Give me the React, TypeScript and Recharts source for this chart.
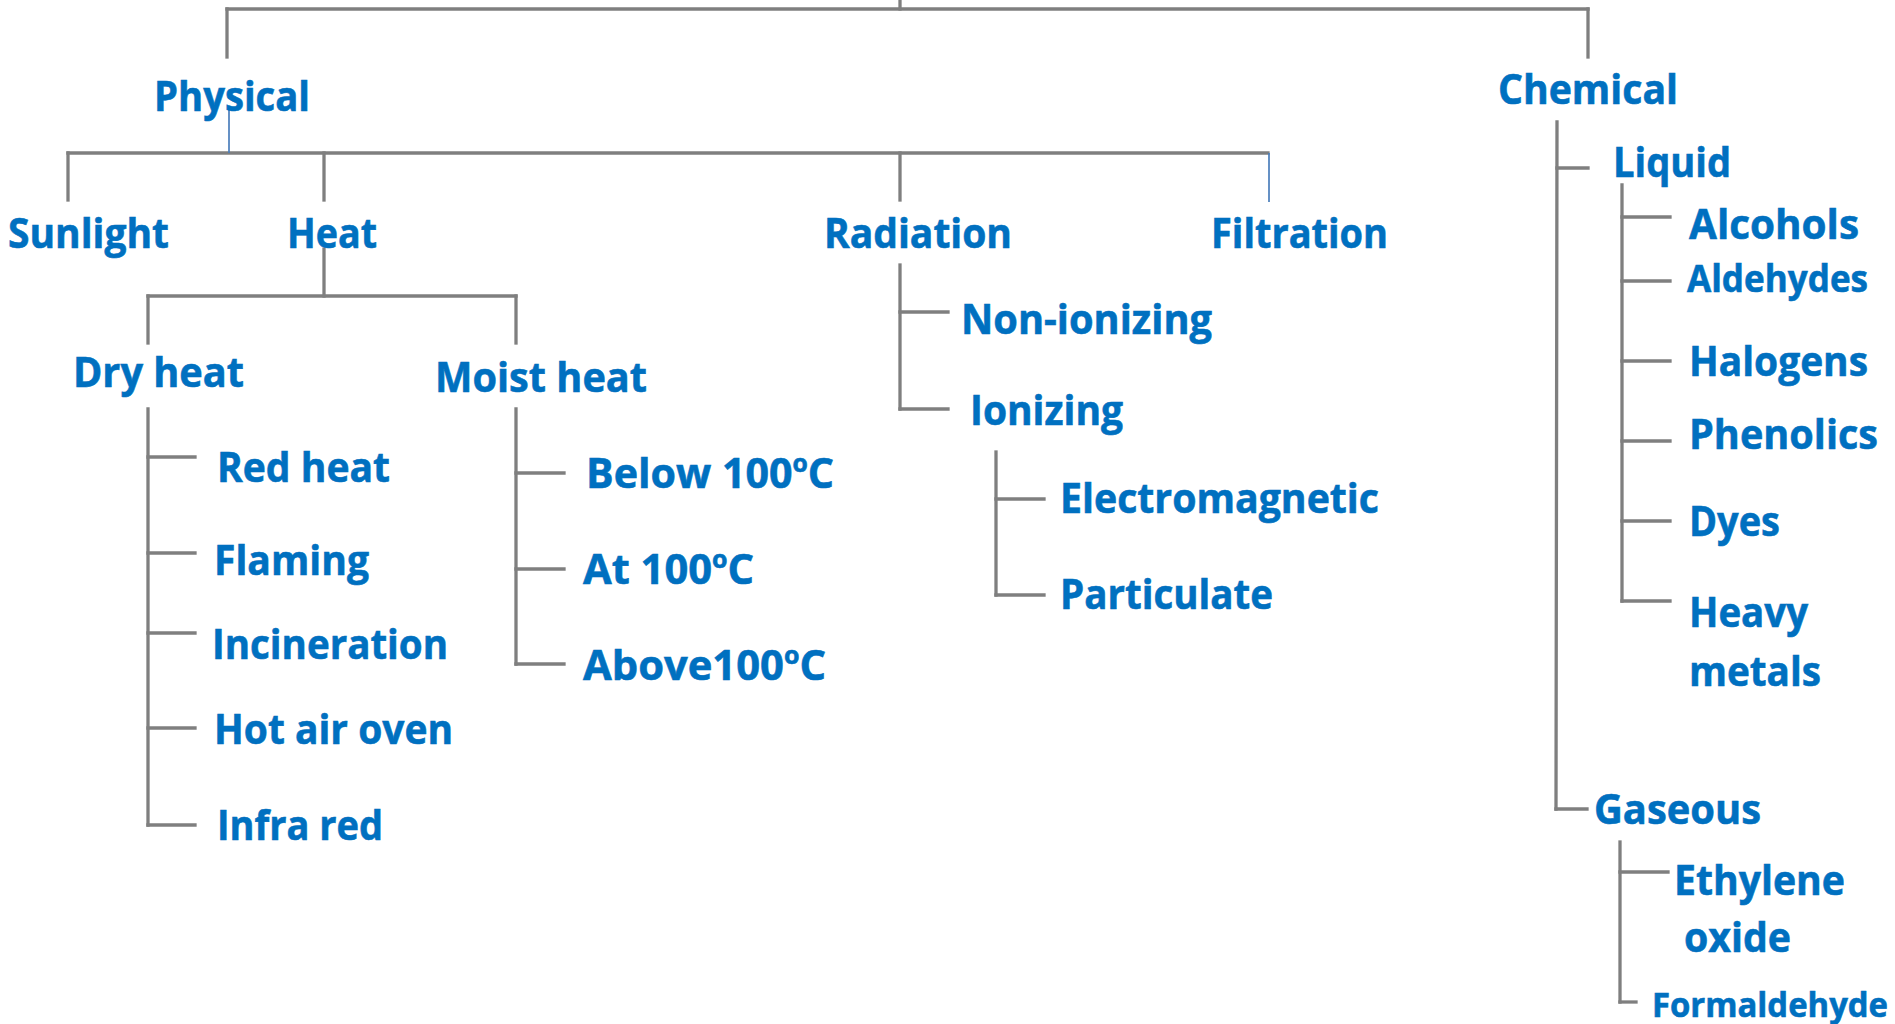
import { ReferenceLine, Scatter, ScatterChart, XAxis, YAxis } from "recharts";

const W = 1895;
const H = 1024;

const tokens = {
  text: "#0070C0",
  line: "#7F7F7F",
  thin: "#4A7EBB",
  font: "'Open Sans', 'Noto Sans', sans-serif",
  fontSize: 42,
} as const;

// node labels: text, left edge and baseline in diagram units
const labelText = [
  "Physical", "Chemical",
  "Sunlight", "Heat", "Radiation", "Filtration",
  "Dry heat", "Moist heat",
  "Red heat", "Flaming", "Incineration", "Hot air oven", "Infra red",
  "Below 100°C", "At 100°C", "Above100°C",
  "Non-ionizing", "Ionizing", "Electromagnetic", "Particulate",
  "Liquid", "Alcohols", "Aldehydes", "Halogens", "Phenolics", "Dyes", "Heavy", "metals",
  "Gaseous", "Ethylene", "oxide", "Formaldehyde",
];
const labelX = [
  154, 1498,
  8, 287, 824, 1211,
  73, 435,
  217, 214, 212, 214, 217,
  586, 583, 583,
  961, 970, 1060, 1060,
  1613, 1689, 1687, 1689, 1689, 1689, 1689, 1689,
  1594, 1674, 1684, 1652,
];
const labelY = [
  111, 104,
  248, 248, 248, 248,
  387, 392,
  482, 575, 659, 744, 840,
  488, 584, 680,
  334, 425, 513, 609,
  177, 239, 292, 376, 449, 536, 627, 686,
  824, 895, 952, 1017,
];

// connector segments [x1, y1, x2, y2]
const rootLinks = [
  [900, 0, 900, 9],
  [227, 9, 1588, 9],
  [227, 9, 227, 57],
  [1588, 9, 1588, 57],
];
const physicalLinks = [
  [68, 153, 1268, 153],
  [68, 153, 68, 200],
  [324, 153, 324, 200],
  [900, 153, 900, 200],
];
const heatLinks = [
  [324, 249, 324, 296],
  [148, 296, 516, 296],
  [148, 296, 148, 343],
  [516, 296, 516, 343],
];
const dryHeatLinks = [
  [148, 409, 148, 825],
  [148, 457, 195, 457],
  [148, 553, 195, 553],
  [148, 633, 195, 633],
  [148, 728, 195, 728],
  [148, 825, 195, 825],
];
const moistHeatLinks = [
  [516, 409, 516, 664],
  [516, 473, 564, 473],
  [516, 569, 564, 569],
  [516, 664, 564, 664],
];
const radiationLinks = [
  [900, 265, 900, 409],
  [900, 312, 948, 312],
  [900, 409, 948, 409],
];
const ionizingLinks = [
  [996, 452, 996, 595],
  [996, 499, 1044, 499],
  [996, 595, 1044, 595],
];
const chemicalLinks = [
  [1557, 122, 1556, 809],
  [1557, 168, 1588, 168],
  [1556, 809, 1587, 809],
];
const liquidLinks = [
  [1622, 185, 1622, 601],
  [1622, 217, 1670, 217],
  [1622, 281, 1670, 281],
  [1622, 361, 1670, 361],
  [1622, 441, 1670, 441],
  [1622, 521, 1670, 521],
  [1622, 601, 1670, 601],
];
const gaseousLinks = [
  [1620, 842, 1620, 1002],
  [1620, 872, 1668, 872],
  [1620, 1002, 1636, 1002],
];
const thinLinks = [
  [229, 110, 229, 153],
  [1269, 153, 1269, 202],
];

// rendered widths of each label, matched to the picture
const labelWidth: Record<string, number> = {
  Physical: 156, Chemical: 180, Sunlight: 161, Heat: 90, Radiation: 188, Filtration: 177,
  "Dry heat": 171, "Moist heat": 212, "Red heat": 173, Flaming: 155, Incineration: 236,
  "Hot air oven": 239, "Infra red": 166, "Below 100°C": 248, "At 100°C": 171,
  "Above100°C": 243, "Non-ionizing": 251, Ionizing: 153, Electromagnetic: 319,
  Particulate: 213, Liquid: 118, Alcohols: 170, Aldehydes: 181, Halogens: 179,
  Phenolics: 189, Dyes: 91, Heavy: 119, metals: 132, Gaseous: 167, Ethylene: 171,
  oxide: 107, Formaldehyde: 236,
};
const labelSize: Record<string, number> = {
  Aldehydes: 38,
  Formaldehyde: 34,
};

const nodes = labelText.map((text, i) => ({ text, x: labelX[i], y: labelY[i] }));

const grayLinks = [
  ...rootLinks,
  ...physicalLinks,
  ...heatLinks,
  ...dryHeatLinks,
  ...moistHeatLinks,
  ...radiationLinks,
  ...ionizingLinks,
  ...chemicalLinks,
  ...liquidLinks,
  ...gaseousLinks,
];

function NodeLabel(props: any) {
  const { cx, cy, payload } = props;
  const text: string = payload.text;
  const size = labelSize[text] ?? tokens.fontSize;
  const deg = text.indexOf("°");
  const common = {
    x: cx,
    y: cy,
    fill: tokens.text,
    stroke: tokens.text,
    strokeWidth: 0.6,
    fontFamily: tokens.font,
    fontWeight: 700,
    fontSize: size,
    textLength: labelWidth[text],
    lengthAdjust: "spacingAndGlyphs" as const,
  };
  if (deg >= 0) {
    // degree sign is drawn as a raised small "o"
    return (
      <text {...common}>
        <tspan>{text.slice(0, deg)}</tspan>
        <tspan dy={-size * 0.38} fontSize={size * 0.6}>o</tspan>
        <tspan dy={size * 0.38}>{text.slice(deg + 1)}</tspan>
      </text>
    );
  }
  return <text {...common}>{text}</text>;
}

export default function App() {
  return (
    <div style={{ position: "absolute", left: 0, top: 0, width: W, height: H, background: "#fff" }}>
      <ScatterChart width={W} height={H} margin={{ top: 0, right: 0, bottom: 0, left: 0 }}>
        <XAxis type="number" dataKey="x" domain={[0, W]} hide allowDataOverflow />
        <YAxis type="number" dataKey="y" domain={[0, H]} reversed hide allowDataOverflow />
        {grayLinks.map(([x1, y1, x2, y2], i) => (
          <ReferenceLine
            key={`g-${i}`}
            segment={[{ x: x1, y: y1 }, { x: x2, y: y2 }]}
            stroke={tokens.line}
            strokeWidth={3.3}
            strokeLinecap="square"
            ifOverflow="visible"
          />
        ))}
        {thinLinks.map(([x1, y1, x2, y2], i) => (
          <ReferenceLine
            key={`t-${i}`}
            segment={[{ x: x1, y: y1 }, { x: x2, y: y2 }]}
            stroke={tokens.thin}
            strokeWidth={1.7}
            ifOverflow="visible"
          />
        ))}
        <Scatter data={nodes} shape={NodeLabel} isAnimationActive={false} />
      </ScatterChart>
    </div>
  );
}
